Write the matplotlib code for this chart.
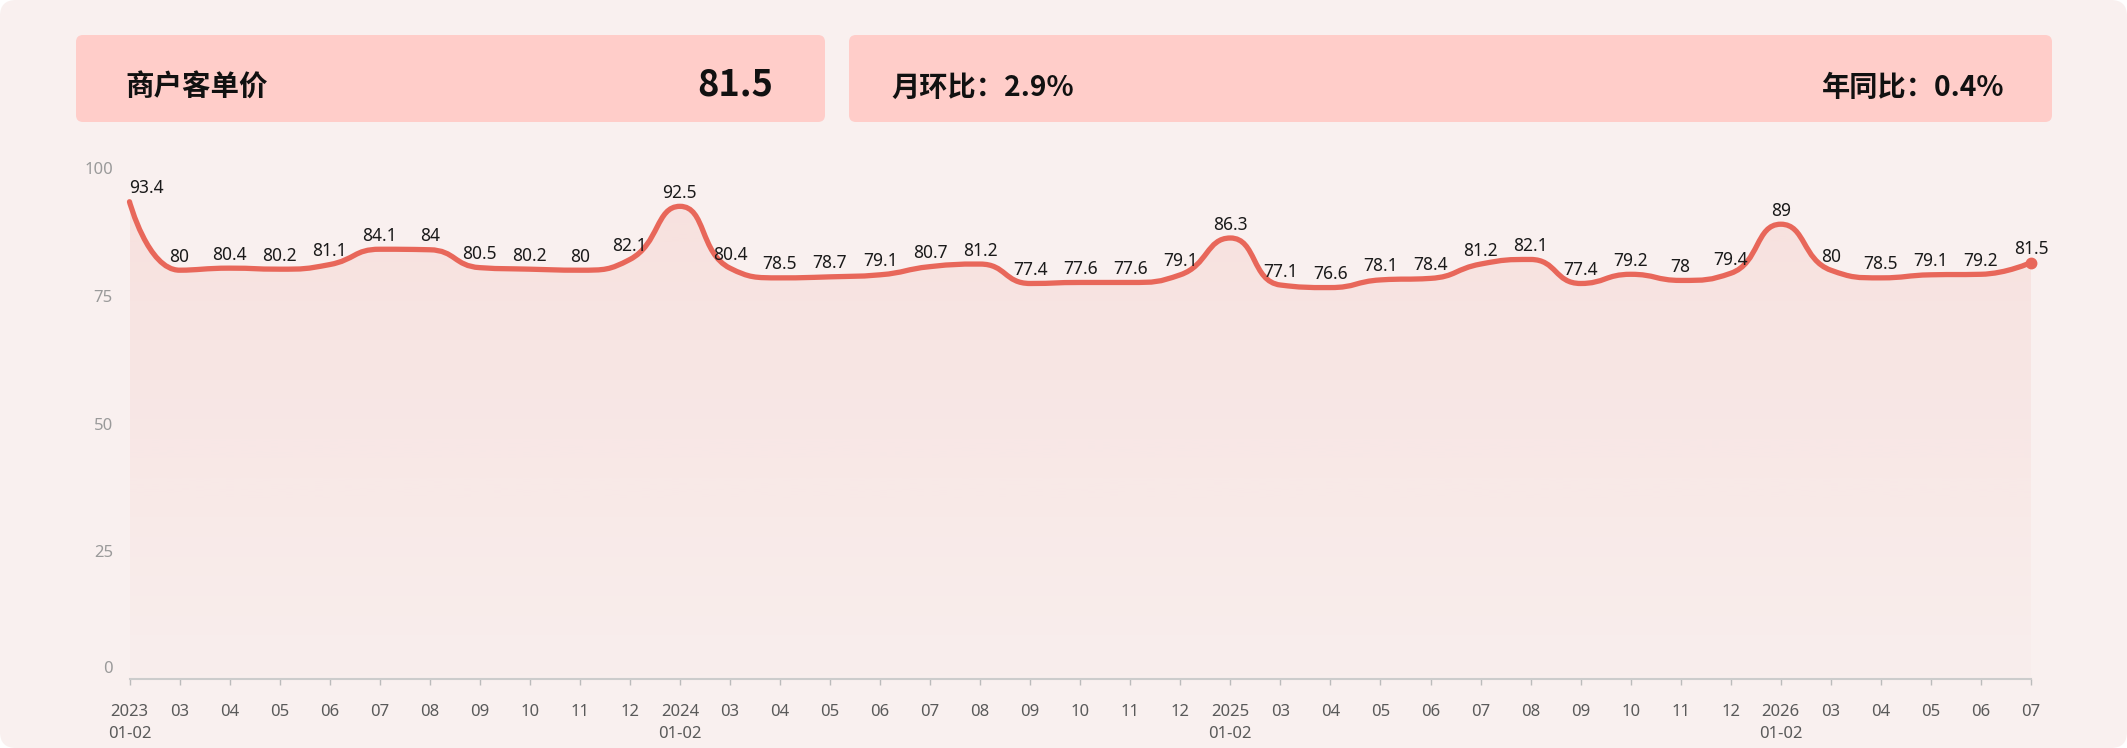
import numpy as np
import matplotlib
matplotlib.use("Agg")
import matplotlib.pyplot as plt
from matplotlib.path import Path
from matplotlib.patches import PathPatch, FancyBboxPatch
from matplotlib.transforms import offset_copy
from matplotlib.colors import to_rgb

# ---------------- data ----------------
x_labels = ["2023\n01-02", "03", "04", "05", "06", "07", "08", "09", "10", "11", "12",
            "2024\n01-02", "03", "04", "05", "06", "07", "08", "09", "10", "11", "12",
            "2025\n01-02", "03", "04", "05", "06", "07", "08", "09", "10", "11", "12",
            "2026\n01-02", "03", "04", "05", "06", "07"]
values = [93.4, 80, 80.4, 80.2, 81.1, 84.1, 84, 80.5, 80.2, 80, 82.1,
          92.5, 80.4, 78.5, 78.7, 79.1, 80.7, 81.2, 77.4, 77.6, 77.6, 79.1,
          86.3, 77.1, 76.6, 78.1, 78.4, 81.2, 82.1, 77.4, 79.2, 78, 79.4,
          89, 80, 78.5, 79.1, 79.2, 81.5]
y_ticks = [0, 25, 50, 75, 100]
card_title = "商户客单价"
card_value = "81.5"
mom_text = "月环比：2.9%"
yoy_text = "年同比：0.4%"

# ---------------- style ----------------
CJK = ["Noto Sans CJK SC", "DejaVu Sans"]
NUM = ["Noto Sans", "Noto Sans CJK SC", "DejaVu Sans"]
plt.rcParams["font.family"] = CJK
LINE = "#e8675a"
PANEL = "#f9f0ef"
CARD = "#ffcdc9"

W, H = 2127, 748
fig = plt.figure(figsize=(W / 100, H / 100), dpi=100, facecolor="white")

# background layer in pixel units (y downward)
bg = fig.add_axes([0, 0, 1, 1])
bg.set_xlim(0, W)
bg.set_ylim(H, 0)
bg.axis("off")
bg.add_patch(FancyBboxPatch((0, 0), W, H, boxstyle="round,pad=0,rounding_size=16",
                            fc=PANEL, ec="none"))
bg.add_patch(FancyBboxPatch((76, 35), 749, 87, boxstyle="round,pad=0,rounding_size=7",
                            fc=CARD, ec="none"))
bg.add_patch(FancyBboxPatch((849, 35), 1203, 87, boxstyle="round,pad=0,rounding_size=7",
                            fc=CARD, ec="none"))
bg.text(125, 96, card_title, ha="left", va="baseline", fontsize=20.5, weight="bold",
        color="#111111", family=CJK)
bg.text(773, 95, card_value, ha="right", va="baseline", fontsize=26, weight="bold",
        color="#111111", family=CJK)
bg.text(891, 96, mom_text, ha="left", va="baseline", fontsize=20.3, weight="bold",
        color="#111111", family=CJK)
bg.text(2004, 96, yoy_text, ha="right", va="baseline", fontsize=20.3, weight="bold",
        color="#111111", family=CJK)

# ---------------- chart axes ----------------
x0_px, x1_px = 129.5, 2031
y100_px, y0_px = 168, 679
ax = fig.add_axes([x0_px / W, (H - y0_px) / H, (x1_px - x0_px) / W, (y0_px - y100_px) / H])
ax.patch.set_alpha(0)
n = len(values)
xs = np.arange(n)
ax.set_xlim(0, n - 1)
ax.set_ylim(0, 100)
for s in ["left", "right", "top"]:
    ax.spines[s].set_visible(False)
ax.spines["bottom"].set_color("#cccccc")
ax.spines["bottom"].set_linewidth(1.5)
ax.set_xticks(xs)
ax.set_yticks([])
ax.tick_params(axis="x", length=4.3, width=1.0, color="#bbbbbb", labelbottom=False)

# echarts-style constrained smooth bezier, computed in display space
pts = ax.transData.transform(np.column_stack([xs, values]))
smooth = 0.5
verts = [tuple(pts[0])]
codes = [Path.MOVETO]
cpx0, cpy0 = pts[0]
px, py = pts[0]
for k in range(1, n):
    x, y = pts[k]
    cpx1, cpy1 = x, y
    if k >= n - 1:
        ncx, ncy = x, y
    else:
        nx, ny = pts[k + 1]
        vx, vy = nx - px, ny - py
        l0 = np.hypot(x - px, y - py)
        l1 = np.hypot(nx - x, ny - y)
        ratio = l1 / (l0 + l1)
        ncx = x + vx * smooth * ratio
        ncy = y + vy * smooth * ratio
        ncx = min(ncx, max(nx, x)); ncy = min(ncy, max(ny, y))
        ncx = max(ncx, min(nx, x)); ncy = max(ncy, min(ny, y))
        vx, vy = ncx - x, ncy - y
        cpx1 = x - vx * l0 / l1
        cpy1 = y - vy * l0 / l1
        cpx1 = min(cpx1, max(px, x)); cpy1 = min(cpy1, max(py, y))
        cpx1 = max(cpx1, min(px, x)); cpy1 = max(cpy1, min(py, y))
        vx, vy = x - cpx1, y - cpy1
        ncx = x + vx * l1 / l0
        ncy = y + vy * l1 / l0
    verts += [(cpx0, cpy0), (cpx1, cpy1), (x, y)]
    codes += [Path.CURVE4] * 3
    cpx0, cpy0 = ncx, ncy
    px, py = x, y
dverts = ax.transData.inverted().transform(np.array(verts))
line_path = Path(dverts, codes)

area_verts = np.vstack([dverts, [[n - 1, 0], [0, 0], [0, 0]]])
area_codes = codes + [Path.LINETO, Path.LINETO, Path.CLOSEPOLY]
area_patch = PathPatch(Path(area_verts, area_codes), fc="none", ec="none",
                       transform=ax.transData)
ax.add_patch(area_patch)

rgb = to_rgb(LINE)
grad = np.zeros((256, 1, 4))
grad[:, 0, 0:3] = rgb
grad[:, 0, 3] = np.linspace(0.11, 0.015, 256)
im = ax.imshow(grad, extent=[0, n - 1, 0, max(values)], aspect="auto",
               origin="upper", zorder=1, interpolation="bilinear")
im.set_clip_path(area_patch)

ax.add_patch(PathPatch(line_path, fc="none", ec=LINE, lw=3.8, capstyle="round",
                       joinstyle="round", clip_on=False, zorder=3))
ax.plot([xs[-1]], [values[-1]], "o", ms=7.5, color=LINE, clip_on=False, zorder=4)
ax.set_xlim(0, n - 1)
ax.set_ylim(0, 100)

# data labels
for i, v in enumerate(values):
    ax.annotate(f"{v:g}", (i, v), xytext=(0, 8.5), textcoords="offset pixels",
                ha="left" if i == 0 else "center", va="baseline",
                fontsize=12.5, color="#1a1a1a", family=NUM, zorder=5,
                annotation_clip=False)

# x tick labels (manual rows)
xt = ax.get_xaxis_transform()
for i, lab in enumerate(x_labels):
    for r, row in enumerate(lab.split("\n")):
        tr = offset_copy(xt, fig=fig, x=0, y=-(37 + 22 * r), units="dots")
        ax.text(i, 0, row, transform=tr, ha="center", va="baseline", fontsize=12,
                color="#5a5a5a", family=NUM, clip_on=False)

# y tick labels
yt = ax.get_yaxis_transform()
for v in y_ticks:
    dy = 6 if v == 0 else -6
    tr = offset_copy(yt, fig=fig, x=-16.5, y=dy, units="dots")
    ax.text(0, v, str(v), transform=tr, ha="right", va="baseline", fontsize=12,
            color="#9a9a9a", family=NUM, clip_on=False)

fig.savefig("out.png", dpi=100, facecolor="white")
